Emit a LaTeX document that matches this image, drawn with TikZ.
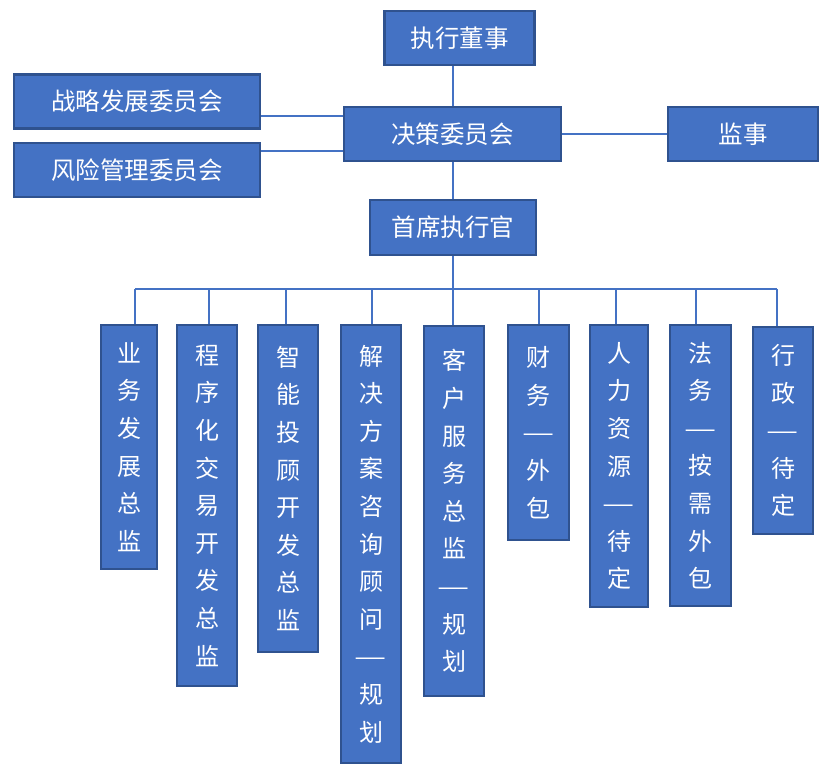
\documentclass[tikz,border=0pt]{standalone}
\usepackage{graphicx}
\usepackage{fontspec}
\newfontfamily\cjk{Noto Sans CJK SC}
\newcommand\wdash{\scalebox{1.5}[1]{—}}
\definecolor{boxfill}{HTML}{4472C4}
\definecolor{boxline}{HTML}{2F528F}
\definecolor{conn}{HTML}{4472C4}
\tikzset{
  hbox/.style={draw=boxline, fill=boxfill, line width=2.5pt, text=white, inner sep=0pt,
    font=\cjk\fontsize{24.5}{29}\selectfont},
  vbox/.style={draw=boxline, fill=boxfill, line width=2.5pt, text=white, inner sep=0pt,
    align=center, font=\cjk\fontsize{24}{37.6}\selectfont},
  conline/.style={draw=conn, line width=2pt}
}
\begin{document}
\begin{tikzpicture}[x=1pt,y=-1pt]
\useasboundingbox (0,0) rectangle (829,772);
% top level
\node[hbox, minimum width=150, minimum height=54] (exec) at (459.5,38) {执行董事};
\node[hbox, minimum width=246, minimum height=54] (zl) at (137,101.5) {战略发展委员会};
\node[hbox, minimum width=246, minimum height=54] (fx) at (137,170) {风险管理委员会};
\node[hbox, minimum width=217, minimum height=54] (dec) at (452.5,134) {决策委员会};
\node[hbox, minimum width=150, minimum height=54] (js) at (743,134) {监事};
\node[hbox, minimum width=166, minimum height=55] (ceo) at (453,227.5) {首席执行官};
% bottom level
\node[vbox, minimum width=56, minimum height=244] (b1) at (129,447) {业\\务\\发\\展\\总\\监};
\node[vbox, minimum width=60, minimum height=361] (b2) at (207,505.5) {程\\序\\化\\交\\易\\开\\发\\总\\监};
\node[vbox, minimum width=60, minimum height=327] (b3) at (288,488.5) {智\\能\\投\\顾\\开\\发\\总\\监};
\node[vbox, minimum width=60, minimum height=438] (b4) at (371,544) {解\\决\\方\\案\\咨\\询\\顾\\问\\\wdash\\规\\划};
\node[vbox, minimum width=60, minimum height=370] (b5) at (454,511) {客\\户\\服\\务\\总\\监\\\wdash\\规\\划};
\node[vbox, minimum width=61, minimum height=215] (b6) at (538.5,432.5) {财\\务\\\wdash\\外\\包};
\node[vbox, minimum width=58, minimum height=282] (b7) at (619,466) {人\\力\\资\\源\\\wdash\\待\\定};
\node[vbox, minimum width=61, minimum height=281] (b8) at (700.5,465.5) {法\\务\\\wdash\\按\\需\\外\\包};
\node[vbox, minimum width=60, minimum height=207] (b9) at (783,430.5) {行\\政\\\wdash\\待\\定};
% connectors top
\draw[conline] (dec.north) -- (dec.north |- exec.south);
\coordinate (zlout) at ([yshift=-14.5pt]zl.east);
\draw[conline] (zlout) -- (zlout -| dec.west);
\coordinate (fxout) at ([yshift=19pt]fx.east);
\draw[conline] (fxout) -- (fxout -| dec.west);
\draw[conline] (dec.east) -- (js.west);
\draw[conline] (dec.south) -- (dec.south |- ceo.north);
% bus
\coordinate (bus) at (453,289);
\draw[conline] (ceo.south) -- (ceo.south |- bus);
\coordinate (d1) at ([xshift=6pt]b1.north);
\coordinate (d2) at ([xshift=2pt]b2.north);
\coordinate (d3) at ([xshift=-2pt]b3.north);
\coordinate (d4) at ([xshift=1pt]b4.north);
\coordinate (d5) at ([xshift=-1pt]b5.north);
\coordinate (d6) at (b6.north);
\coordinate (d7) at ([xshift=-3pt]b7.north);
\coordinate (d8) at ([xshift=-4.5pt]b8.north);
\coordinate (d9) at ([xshift=-6pt]b9.north);
\draw[conline] (d1 |- bus) -- (d9 |- bus);
\foreach \i in {1,...,9} {\draw[conline] (d\i |- bus) -- (d\i);}
\end{tikzpicture}
\end{document}
